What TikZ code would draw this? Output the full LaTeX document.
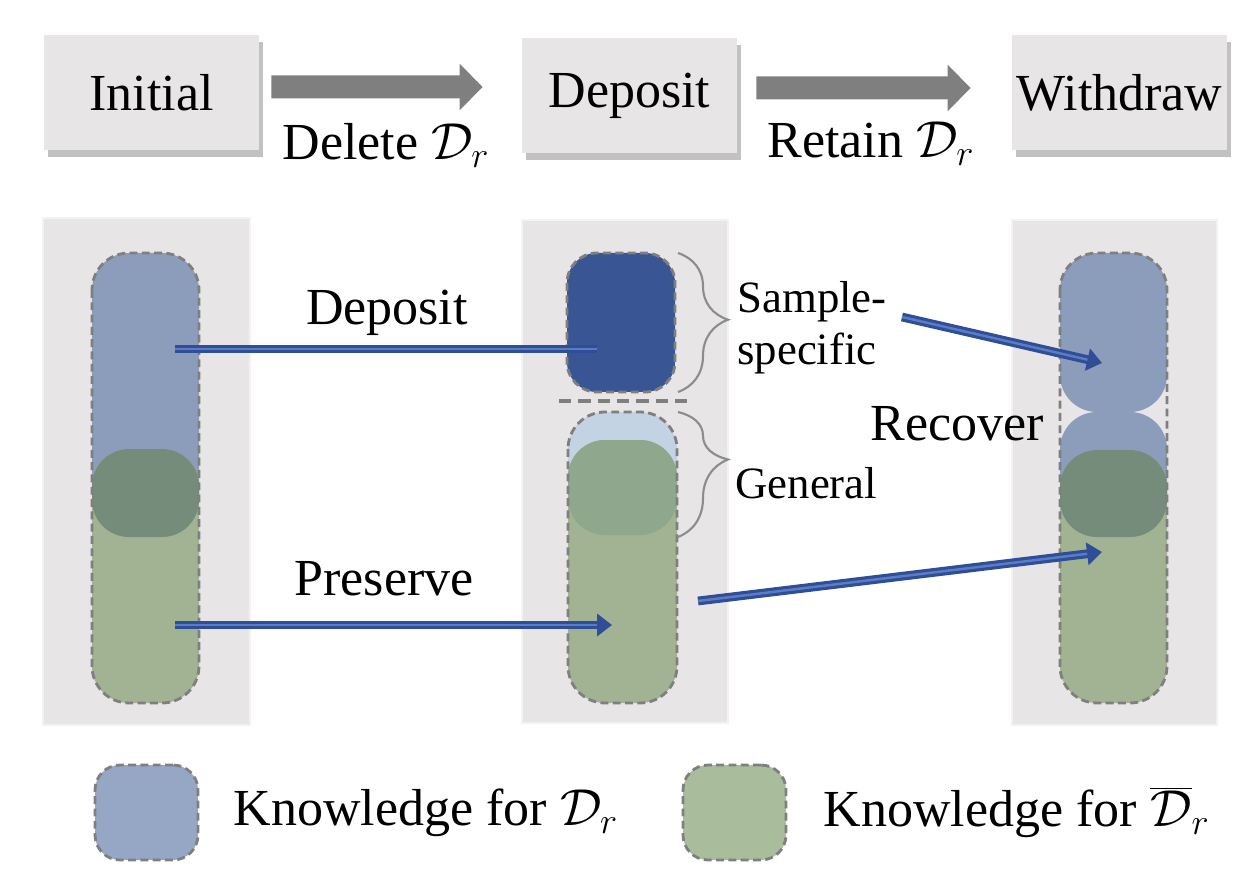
\RequirePackage{fix-cm}
\documentclass[tikz,border=0pt]{standalone}
\usepackage{fontspec}
\setmainfont{Liberation Serif}
\usetikzlibrary{arrows.meta,shadows,decorations.pathreplacing,positioning}

\definecolor{panelgray}{HTML}{E7E5E6}
\definecolor{stagearrowgray}{HTML}{7F7F7F}
\definecolor{knowblue}{HTML}{8C9DBC}
\definecolor{knowgreen}{HTML}{A1B392}
\definecolor{overlapgreen}{HTML}{748C79}
\definecolor{sampleblue}{HTML}{3A5593}
\definecolor{paleblue}{HTML}{C4D3E4}
\definecolor{midgreen}{HTML}{8FA78C}
\definecolor{legblue}{HTML}{96A7C6}
\definecolor{leggreen}{HTML}{A9BC9B}
\definecolor{arrowblue}{HTML}{2F4E96}
\definecolor{arrowlight}{HTML}{5A7CC6}
\definecolor{bordergray}{HTML}{7F7F7F}
\definecolor{bracegray}{HTML}{8C8C8C}

\newcommand\bigfont{\fontsize{29.6}{34}\selectfont}
\newcommand\smallfont{\fontsize{25.5}{29.6}\selectfont}

\tikzset{
  stagebox/.style={fill=panelgray, minimum width=4.3cm, minimum height=2.3cm,
    inner sep=0pt, font=\bigfont,
    drop shadow={shadow xshift=0.08cm, shadow yshift=-0.14cm, opacity=0.35, fill=black!70}},
  stagearrow/.style={stagearrowgray, line width=0.46cm,
    -{Triangle[length=0.46cm, width=0.9cm]}},
  panel/.style={fill=panelgray, draw=panelgray!50!white, line width=1pt},
  knowline/.style={draw=bordergray, line width=1.6pt, dash pattern=on 4.5pt off 2.5pt},
  flowarrow/.style={draw=arrowblue, line width=5pt,
    -{Triangle[length=8.5pt, width=12.5pt]},
    postaction={draw=arrowlight, line width=1.4pt, -{}, shorten >=8.5pt}},
  flowline/.style={draw=arrowblue, line width=5pt,
    postaction={draw=arrowlight, line width=1.4pt}},
  curly/.style={draw=bracegray, line width=1.2pt, decorate},
  lbl/.style={font=\bigfont, inner sep=0pt},
  smalllbl/.style={font=\smallfont, inner sep=0pt, align=left},
  legbox/.style={knowline, rounded corners=0.5cm, minimum width=2.06cm, minimum height=1.9cm}
}

\begin{document}
\begin{tikzpicture}[x=0.02cm, y=-0.02cm]
\useasboundingbox (0,0) rectangle (1254,878);

% stages on top
\node[stagebox] (init) at (151.5,92.5) {Initial};
\node[stagebox] (dep) at (629.5,95.5) {Deposit};
\node[stagebox] (wd) at (1119.5,92.5) {Withdraw};
\draw[stagearrow] ([xshift=0.24cm,yshift=0.11cm]init.east) -- ([xshift=-0.78cm,yshift=0.17cm]dep.west);
\draw[stagearrow] ([xshift=0.38cm,yshift=0.15cm]dep.east) -- ([xshift=-0.82cm,yshift=0.09cm]wd.west);
\node[lbl, anchor=base] (dellbl) at (386,160) {Delete $\mathcal{D}_r$};
\node[lbl, anchor=base] (retlbl) at (871,158) {Retain $\mathcal{D}_r$};

% panels
\fill[panel] (43,218) rectangle (250,725);
\fill[panel] (522,220) rectangle (728,723);
\fill[panel] (1012,220) rectangle (1217,725);

% initial model
\fill[knowblue, rounded corners=0.74cm] (92,253) rectangle (199,537);
\fill[knowgreen, rounded corners=0.74cm] (92,449) rectangle (199,703);
\begin{scope}
  \clip[rounded corners=0.74cm] (92,253) rectangle (199,537);
  \fill[overlapgreen, rounded corners=0.74cm] (92,449) rectangle (199,703);
\end{scope}
\draw[knowline, rounded corners=0.74cm] (92,253) rectangle (199,703);

% deposit model
\fill[sampleblue, rounded corners=0.6cm] (567,253) rectangle (675,392);
\draw[knowline, rounded corners=0.6cm] (567,253) rectangle (675,392);
\draw[bordergray, line width=2.6pt, dash pattern=on 7pt off 4pt] (559,401) -- (688,401);
\fill[paleblue, rounded corners=0.74cm] (568,412) rectangle (677,535);
\fill[knowgreen, rounded corners=0.74cm] (568,440) rectangle (677,703);
\begin{scope}
  \clip[rounded corners=0.74cm] (568,412) rectangle (677,535);
  \fill[midgreen, rounded corners=0.74cm] (568,440) rectangle (677,703);
\end{scope}
\draw[knowline, rounded corners=0.74cm] (568,412) rectangle (677,703);
\draw[curly, decoration={brace, amplitude=1cm, aspect=0.48}] (678,253) -- (678,392);
\draw[curly, decoration={brace, amplitude=1cm, aspect=0.38}] (678,412) -- (678,537);
\node[smalllbl, anchor=west] (samplelbl) at (737,328) {Sample-\\specific};
\node[smalllbl, anchor=base west] (genlbl) at (735,498) {General};

% withdraw model
\fill[knowblue, rounded corners=0.74cm] (1060,253) rectangle (1167,412);
\fill[knowblue, rounded corners=0.74cm] (1060,412) rectangle (1167,537);
\fill[knowgreen, rounded corners=0.74cm] (1060,450) rectangle (1167,703);
\begin{scope}
  \clip[rounded corners=0.74cm] (1060,412) rectangle (1167,537);
  \fill[overlapgreen, rounded corners=0.74cm] (1060,450) rectangle (1167,703);
\end{scope}
\draw[knowline, rounded corners=0.74cm] (1060,253) rectangle (1167,703);

% flows between models
\coordinate (lsrctop) at (175,349);
\coordinate (msinktop) at (597,349);
\coordinate (lsrcbot) at (175,625);
\coordinate (msinkbot) at (612,625);
\coordinate (msrcbot) at (698,601);
\coordinate (ssrc) at (902,317);
\coordinate (rsinktop) at (1102,363);
\coordinate (rsinkbot) at (1102,552);
\draw[flowline] (lsrctop) -- (msinktop);
\draw[flowarrow] (lsrcbot) -- (msinkbot);
\draw[flowarrow] (ssrc) -- (rsinktop);
\draw[flowarrow] (msrcbot) -- (rsinkbot);
\node[lbl, anchor=base] (deplbl) at (387,325) {Deposit};
\node[lbl, anchor=base] (preslbl) at (384,595) {Preserve};
\node[lbl, anchor=base west] (reclbl) at (870,440) {Recover};

% legend
\node[legbox, fill=legblue] (legd) at (146.5,812.5) {};
\node[lbl, right=0.68cm of legd] (legdlbl) {Knowledge for $\mathcal{D}_r$};
\node[legbox, fill=leggreen] (legdbar) at (734.5,812.5) {};
\node[lbl, right=0.72cm of legdbar] (legdbarlbl) {Knowledge for $\overline{\mathcal{D}}_r$};
\end{tikzpicture}
\end{document}
